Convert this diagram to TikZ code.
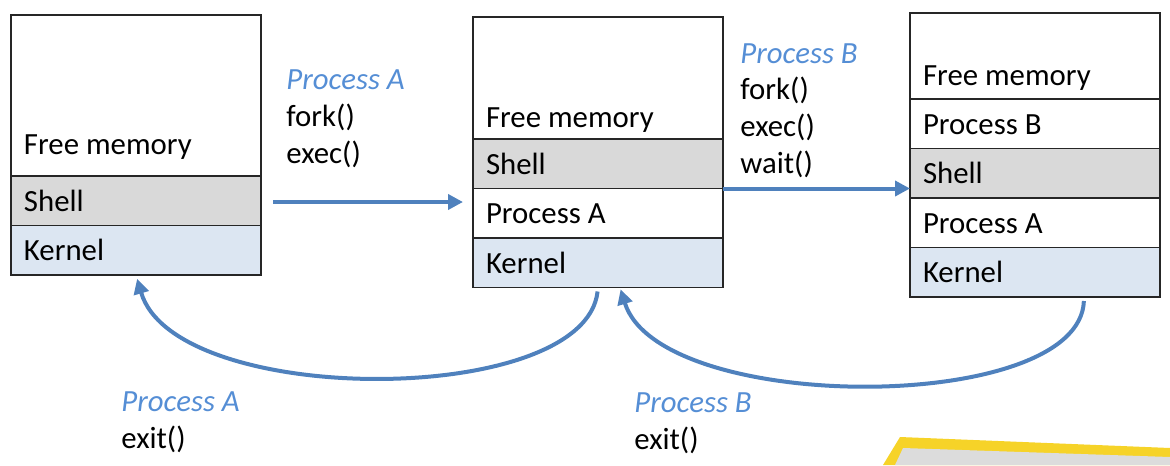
\documentclass[tikz,border=0pt]{standalone}
\usepackage{fontspec}
\setmainfont{Carlito}
\usepackage{tikz}
\usetikzlibrary{positioning,arrows.meta}
\definecolor{shellgray}{RGB}{217,217,217}
\definecolor{kernelblue}{RGB}{220,230,242}
\definecolor{arrowblue}{RGB}{79,129,189}
\definecolor{labelblue}{RGB}{85,142,213}
\definecolor{slideyellow}{RGB}{246,211,40}
\definecolor{slidegray}{RGB}{220,220,220}

\begin{document}
\begin{tikzpicture}[x=0.5pt, y=-0.5pt, >={Triangle[length=7.5pt,width=7.5pt]},
    font=\fontsize{15.4}{18.3}\selectfont,
    layer/.style={rectangle, draw=black!85, line width=0.6pt, outer sep=0pt, inner xsep=6.5pt, inner ysep=0pt,
        text width=112pt, align=flush left, minimum height=24.75pt, text height=17.5pt, text depth=7.25pt},
    freemem/.style={layer, minimum height=#1},
    shellrow/.style={layer, fill=shellgray},
    kernelrow/.style={layer, fill=kernelblue},
    flow/.style={->, line width=2pt, draw=arrowblue},
    call/.style={anchor=base west, inner sep=0pt, align=left}]

\useasboundingbox (0,0) rectangle (1170,465);

% memory before fork
\node [freemem=80.5pt, text height=69.5pt, text depth=11pt, anchor=north west] (mem1) at (11,15) {Free memory};
\node [shellrow, below=0pt of mem1] (sh1) {Shell};
\node [kernelrow, below=0pt of sh1] (ker1) {Kernel};

% memory with process A
\node [freemem=61pt, text height=55pt, text depth=6pt, anchor=north west] (mem2) at (473,17) {Free memory};
\node [shellrow, below=0pt of mem2] (sh2) {Shell};
\node [layer, below=0pt of sh2] (pa2) {Process A};
\node [kernelrow, below=0pt of pa2] (ker2) {Kernel};

% memory with process B
\node [freemem=43pt, text height=36pt, text depth=7pt, anchor=north west] (mem3) at (910,13) {Free memory};
\node [layer, below=0pt of mem3] (pb3) {Process B};
\node [shellrow, below=0pt of pb3] (sh3) {Shell};
\node [layer, below=0pt of sh3] (pa3) {Process A};
\node [kernelrow, below=0pt of pa3] (ker3) {Kernel};

% system calls (base = last line)
\node [call] (callA) at (286,163) {\textcolor{labelblue}{\itshape Process A}\\fork()\\exec()};
\node [call] (callB) at (740,173) {\textcolor{labelblue}{\itshape Process B}\\fork()\\exec()\\wait()};
\node [call] (exitA) at (121,448) {\textcolor{labelblue}{\itshape Process A}\\exit()};
\node [call] (exitB) at (634,449) {\textcolor{labelblue}{\itshape Process B}\\exit()};

\coordinate (forkstart) at (273,202);
\draw [flow, shorten >=5pt] (forkstart) -- (forkstart -| pa2.west);
\draw [flow] (pa2.north east) -- (pa2.north east -| sh3.west);

\draw [flow, shorten <=2pt, shorten >=2pt] (ker2.south) .. controls (585,408) and (175,408) .. (ker1.south);
\draw [flow, shorten <=2pt, shorten >=1pt] ([xshift=24.5pt]ker3.south) .. controls (1080,415) and (660,415) .. ([xshift=11pt]ker2.south);

% slide corner
\fill [slideyellow] (900,437) -- (1170,448) -- (1170,465) -- (883,465) -- cycle;
\fill [slidegray] (903,448) -- (1170,457) -- (1170,465) -- (895,465) -- cycle;

\end{tikzpicture}
\end{document}
